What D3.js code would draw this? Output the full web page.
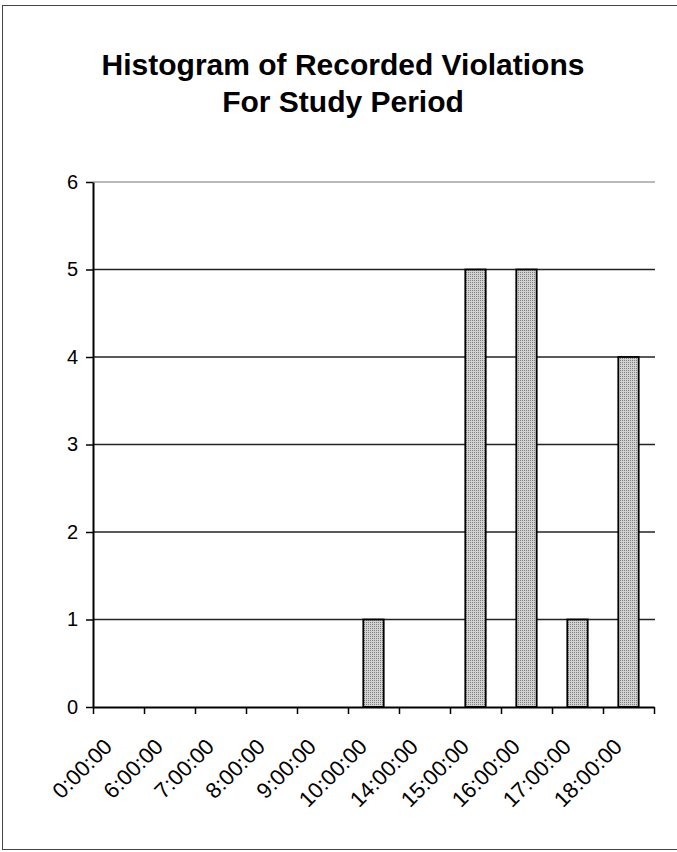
<!DOCTYPE html>
<html>
<head>
<meta charset="utf-8">
<script src="https://cdn.jsdelivr.net/npm/d3@7"></script>
<style>
  html, body { margin: 0; padding: 0; background: #fff; }
  svg { display: block; }
</style>
</head>
<body>
<svg id="chart" width="677" height="852"></svg>
<script>
const titleLines = ["Histogram of Recorded Violations", "For Study Period"];
const categories = ["0:00:00", "6:00:00", "7:00:00", "8:00:00", "9:00:00", "10:00:00",
                    "14:00:00", "15:00:00", "16:00:00", "17:00:00", "18:00:00"];
const counts = [0, 0, 0, 0, 0, 1, 0, 5, 5, 1, 4];
const yTicks = [0, 1, 2, 3, 4, 5, 6];

(function () {
const plotL = 93, plotR = 654, plotT = 182, plotB = 707;
const font = "'Liberation Sans', Arial, Helvetica, sans-serif";

const svg = d3.select("#chart");

// fill pattern to mimic the stippled grey of the bars
const defs = svg.append("defs");
const pat = defs.append("pattern").attr("id", "stipple")
  .attr("width", 2).attr("height", 2).attr("patternUnits", "userSpaceOnUse");
pat.append("rect").attr("width", 2).attr("height", 2).attr("fill", "#d2d2d2");
pat.append("rect").attr("width", 1).attr("height", 1).attr("fill", "#808080");

// outer frame (right edge falls just outside the picture, as in the scan)
svg.append("rect").attr("x", 2.5).attr("y", 5.5).attr("width", 676).attr("height", 844)
  .attr("fill", "none").attr("stroke", "#444").attr("stroke-width", 1);

// title
svg.append("g").selectAll("text").data(titleLines).join("text")
  .attr("x", 343).attr("y", (d, i) => 75 + i * 37)
  .attr("text-anchor", "middle")
  .attr("font-family", font).attr("font-weight", "bold").attr("font-size", 30)
  .attr("fill", "#000")
  .text(d => d);

const x = d3.scaleBand().domain(categories).range([plotL, plotR])
  .paddingInner(0.6).paddingOuter(0.3);
const xb = d3.scaleLinear().domain([0, categories.length]).range([plotL, plotR]);
const y = d3.scaleLinear().domain([0, 6]).range([plotB, plotT]);

// gridlines
svg.append("g").selectAll("line").data(yTicks.filter(v => v > 0)).join("line")
  .attr("x1", plotL).attr("x2", plotR + 1)
  .attr("y1", d => y(d)).attr("y2", d => y(d))
  .attr("stroke", d => d === 6 ? "#777" : "#222")
  .attr("stroke-width", d => d === 6 ? 1.2 : 1.5);

// bars
svg.append("g").selectAll("rect").data(categories).join("rect")
  .attr("x", d => x(d))
  .attr("width", x.bandwidth())
  .attr("y", (d, i) => y(counts[i]))
  .attr("height", (d, i) => y(0) - y(counts[i]))
  .attr("fill", "url(#stipple)")
  .attr("stroke", (d, i) => counts[i] > 0 ? "#000" : "none")
  .attr("stroke-width", 1.8);

// y axis
const yAxis = svg.append("g").attr("transform", `translate(${plotL},0)`)
  .call(d3.axisLeft(y).tickValues(yTicks).tickFormat(d3.format("d"))
    .tickSize(7).tickSizeOuter(0).tickPadding(8));
yAxis.select(".domain").attr("stroke", "#000").attr("stroke-width", 2);
yAxis.selectAll(".tick line").attr("stroke", "#000").attr("stroke-width", 1.5);
yAxis.selectAll(".tick text").attr("font-family", font).attr("font-size", 20)
  .attr("fill", "#000");

// x axis (ticks at category boundaries)
const xAxis = svg.append("g").attr("transform", `translate(0,${plotB})`)
  .call(d3.axisBottom(xb).tickValues(d3.range(categories.length + 1))
    .tickFormat("").tickSize(7).tickSizeOuter(0));
xAxis.select(".domain").attr("stroke", "#000").attr("stroke-width", 2);
xAxis.selectAll(".tick line").attr("stroke", "#000").attr("stroke-width", 1.5);

// rotated category labels
svg.append("g").selectAll("text").data(categories).join("text")
  .attr("transform", d => `translate(${x(d) + x.bandwidth() / 2 - 5},748) rotate(-45)`)
  .attr("text-anchor", "end")
  .attr("font-family", font).attr("font-size", 22).attr("fill", "#000")
  .text(d => d);
})();
</script>
</body>
</html>
